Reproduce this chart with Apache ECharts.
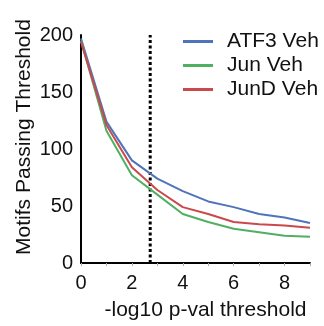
<!DOCTYPE html>
<html>
<head>
<meta charset="utf-8">
<script src="https://cdn.jsdelivr.net/npm/echarts@6/dist/echarts.min.js"></script>
<style>
  html, body { margin: 0; padding: 0; background: #fff; }
  #chart { width: 324px; height: 326px; }
</style>
</head>
<body>
<div id="chart"></div>
<script>
// -log10 p-value thresholds
const thresholds = [0, 1, 2, 3, 4, 5, 6, 7, 8, 9];
const atf3Veh = [197, 124, 90, 74, 63, 54, 49, 43, 40, 35];
const junVeh = [195, 116, 77, 60, 43, 36, 30, 27, 24, 23];
const jundVeh = [194, 121, 84, 64, 49, 43, 36, 34, 33, 31];
const cutoff = 2.72;

const font = '"Liberation Sans", Arial, sans-serif';
const chart = echarts.init(document.getElementById("chart"));

const pair = (ys) => thresholds.map((x, i) => [x, ys[i]]);

chart.setOption({
  animation: false,
  backgroundColor: "#fff",
  textStyle: { fontFamily: font },
  grid: { left: 81, right: 14, top: 35, bottom: 62 },
  legend: {
    orient: "vertical",
    left: 178,
    top: 26,
    itemWidth: 30,
    itemHeight: 3,
    itemGap: 3,
    icon: "rect",
    textStyle: { fontSize: 21, color: "#111", fontFamily: font, padding: [0, 0, 0, 9] },
    data: ["ATF3 Veh", "Jun Veh", "JunD Veh"],
  },
  xAxis: {
    type: "value",
    min: 0,
    max: 9,
    interval: 1,
    name: "-log10 p-val threshold",
    nameLocation: "middle",
    nameGap: 37,
    nameTextStyle: { fontSize: 21, color: "#111", padding: [0, 0, 0, 20] },
    axisLine: { lineStyle: { color: "#000", width: 2 } },
    axisTick: { show: true, length: 3, lineStyle: { color: "#aaa", width: 1 } },
    axisLabel: {
      fontSize: 20,
      color: "#111",
      margin: 10,
      formatter: (v) => (v % 2 === 0 ? String(v) : ""),
    },
    splitLine: { show: false },
  },
  yAxis: {
    type: "value",
    min: 0,
    max: 200,
    interval: 50,
    name: "Motifs Passing Threshold",
    nameLocation: "middle",
    nameGap: 46,
    nameMoveOverlap: false,
    nameTextStyle: { fontSize: 21, color: "#111", padding: [0, 0, 0, 24] },
    axisLine: { show: true, lineStyle: { color: "#000", width: 2 } },
    axisTick: { show: false },
    axisLabel: { fontSize: 20, color: "#111", margin: 8 },
    splitLine: { show: false },
  },
  series: [
    {
      name: "ATF3 Veh",
      type: "line",
      showSymbol: false,
      data: pair(atf3Veh),
      lineStyle: { color: "#4f74b9", width: 2 },
      itemStyle: { color: "#4f74b9" },
    },
    {
      name: "Jun Veh",
      type: "line",
      showSymbol: false,
      data: pair(junVeh),
      lineStyle: { color: "#4fb062", width: 2 },
      itemStyle: { color: "#4fb062" },
    },
    {
      name: "JunD Veh",
      type: "line",
      showSymbol: false,
      data: pair(jundVeh),
      lineStyle: { color: "#c9494d", width: 2 },
      itemStyle: { color: "#c9494d" },
    },
    {
      name: "cutoff",
      type: "line",
      showSymbol: false,
      silent: true,
      data: [[cutoff, 0], [cutoff, 200]],
      lineStyle: { color: "#000", width: 3, type: [3, 2.5] },
      z: 1,
    },
  ],
});
</script>
</body>
</html>
